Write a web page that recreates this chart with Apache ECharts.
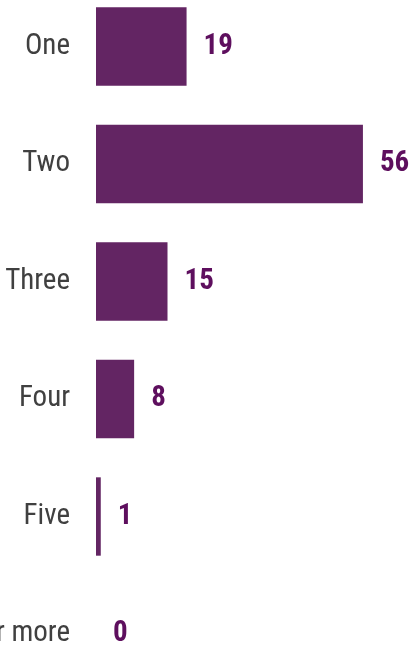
<!DOCTYPE html>
<html>
<head>
<meta charset="utf-8">
<style>
  html, body { margin: 0; padding: 0; background: #ffffff; }
  #chart { width: 414px; height: 648px; }
</style>
<script src="https://cdn.jsdelivr.net/npm/echarts@6/dist/echarts.min.js"></script>
</head>
<body>
<div id="chart"></div>
<script>
// Number of responses per answer option
const categories = ['One', 'Two', 'Three', 'Four', 'Five', 'Six or more'];
const counts = [19, 56, 15, 8, 1, 0];

const FONT = '"Roboto Condensed", "DejaVu Sans Condensed", sans-serif';

const chart = echarts.init(document.getElementById('chart'), null, { renderer: 'canvas' });

chart.setOption({
  animation: false,
  grid: {
    left: 96, width: 286, top: -12.25, height: 705,
    containLabel: false,
    outerBoundsMode: 'none'
  },
  xAxis: {
    type: 'value',
    min: 0,
    max: 60,
    show: false
  },
  yAxis: {
    type: 'category',
    data: categories,
    inverse: true,
    axisLine: { show: false },
    axisTick: { show: false },
    splitLine: { show: false },
    axisLabel: {
      margin: 26,
      color: '#404040',
      fontSize: 29,
      padding: [7, 0, 0, 0],
      fontFamily: FONT
    }
  },
  series: [{
    type: 'bar',
    data: counts,
    barCategoryGap: '33.3%',
    itemStyle: { color: '#632563' },
    label: {
      show: true,
      position: 'right',
      distance: 17,
      color: '#5e0f5e',
      fontWeight: 'bold',
      fontSize: 29,
      padding: [7, 0, 0, 0],
      fontFamily: FONT
    }
  }]
});
</script>
</body>
</html>
